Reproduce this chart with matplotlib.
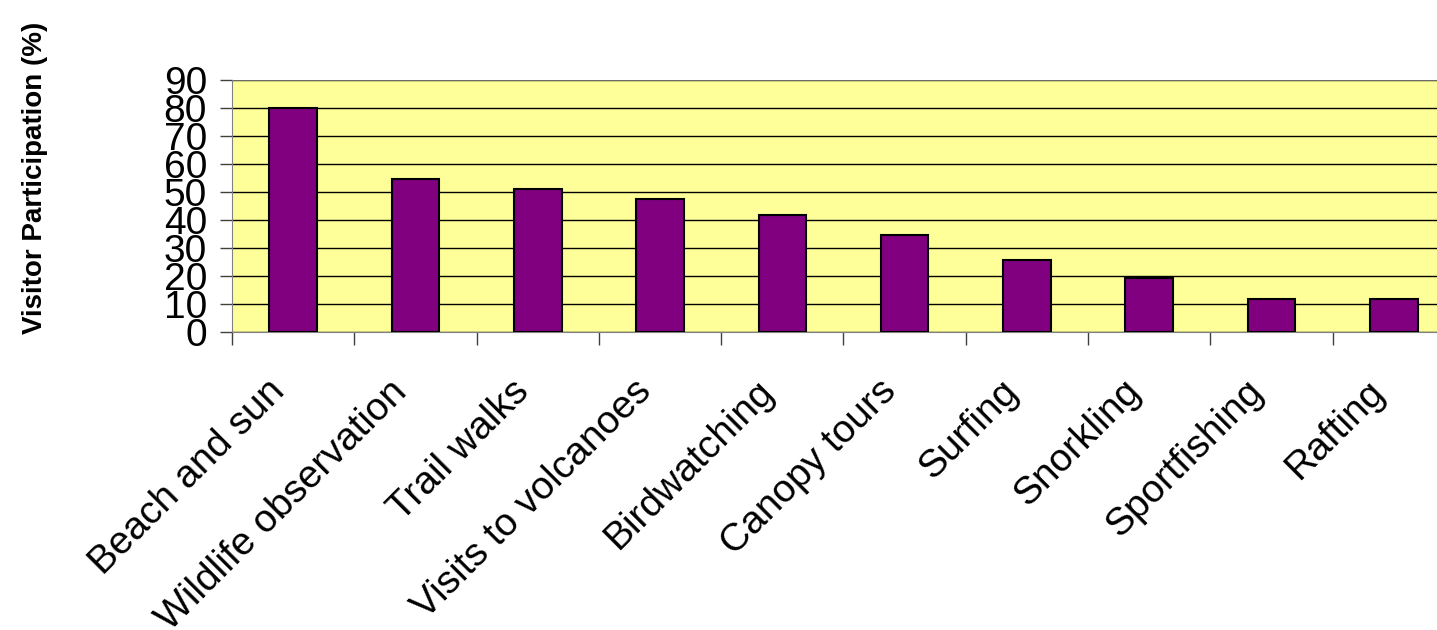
import numpy as np
import matplotlib
matplotlib.use("Agg")
import matplotlib.pyplot as plt

# activities and share of visitors taking part (%)
activities = ["Beach and sun", "Wildlife observation", "Trail walks",
              "Visits to volcanoes", "Birdwatching", "Canopy tours",
              "Surfing", "Snorkling", "Sportfishing", "Rafting"]
participation = [80, 54.5, 51, 47.3, 41.6, 34.5, 25.7, 19.3, 11.6, 11.6]
y_ticks = [0, 10, 20, 30, 40, 50, 60, 70, 80, 90]

plt.rcParams['font.family'] = ['Liberation Sans', 'DejaVu Sans']

W, H = 1437, 630
fig = plt.figure(figsize=(W / 100, H / 100), dpi=100)
fig.patch.set_facecolor("white")

left, right, top, bottom = 232, 1455, 80, 331.7
ax = fig.add_axes([left / W, 1 - bottom / H, (right - left) / W, (bottom - top) / H])
ax.set_facecolor("#FFFF99")

x = np.arange(len(activities))
ax.bar(x, participation, width=0.39, color="#800080", edgecolor="black",
       linewidth=1.5, zorder=3)

ax.set_xlim(-0.5, len(activities) - 0.5)
ax.set_ylim(0, 90)
ax.set_yticks(y_ticks)
ax.set_yticklabels([str(v) for v in y_ticks], fontsize=28)
ax.yaxis.grid(True, color="black", linewidth=1.0, zorder=1)
ax.set_axisbelow(True)

# category labels a little left of bar centres, tick marks between categories
ax.set_xticks(x - 0.22)
ax.set_xticklabels(activities, fontsize=28, rotation=45, ha="right",
                   va="top", rotation_mode="anchor")
ax.tick_params(axis="x", which="major", length=0, pad=30)
ax.set_xticks(np.arange(len(activities)) - 0.5, minor=True)
ax.tick_params(axis="x", which="minor", length=9, width=1, color="#404040")
ax.tick_params(axis="y", length=9, width=1, color="#404040", pad=9)

for s in ["top", "right"]:
    ax.spines[s].set_visible(False)
ax.spines["left"].set_color("#808080")
ax.spines["bottom"].set_color("#808080")
ax.axhline(90, color="#808080", linewidth=1.2, zorder=2)

fig.text(35 / W, 1 - 178 / H, "Visitor Participation (%)", rotation=90,
         fontsize=20, fontweight="bold", ha="center", va="center")

fig.savefig("out.png", dpi=100)
